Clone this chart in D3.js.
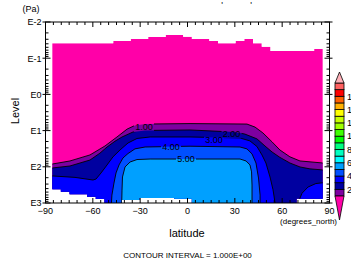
<!DOCTYPE html>
<html><head><meta charset="utf-8">
<script src="https://cdn.jsdelivr.net/npm/d3@7"></script>
<style>
body{margin:0;background:#fff}
svg{display:block}
text{font-family:"Liberation Sans",Arial,Helvetica,sans-serif;fill:#000}
</style></head>
<body><svg id="chart" width="351" height="267"></svg>
<script>
// ---------- data ----------
// T21 Gaussian latitudes (grid points), south to north
const gaussLats = [-85.761,-80.269,-74.745,-69.213,-63.679,-58.143,-52.607,-47.070,-41.532,-35.995,-30.458,-24.920,-19.382,-13.844,-8.306,-2.769,
                   2.769,8.306,13.844,19.382,24.920,30.458,35.995,41.532,47.070,52.607,58.143,63.679,69.213,74.745,80.269,85.761];
// top of valid data (Pa), one per interval between grid latitudes
const topPa = [0.0387,0.0387,0.0387,0.0387,0.0387,0.0387,0.0387,0.0335,0.0335,0.0295,0.0295,0.026,0.026,0.0229,0.0229,0.0255,
               0.0295,0.0295,0.0335,0.0387,0.0387,0.0335,0.0295,0.0387,0.048,0.063,0.063,0.063,0.063,0.063,0.056];
// bottom of valid data (Pa), one per interval
const botPa = [419,488,575,575,670,776,1000,1000,826,826,728,728,728,728,760,760,
               1000,1000,1000,1000,1000,1000,1000,1000,1000,1000,1000,1000,760,760,760];
// contour lines [latitude, level(Pa)]
const contour1 = [[-85.76,84],[-74.5,69],[-61.8,47],[-52.3,26.6],[-44.7,15],[-38.3,9.1],[-33.3,7.2],[-26.9,6.6],[1.6,6.4],[37.7,6.6],[42.8,8.0],[47.8,11.6],[53.6,20.5],[58.6,34.4],[64.9,53],[71.3,69],[85.76,78.5]];
const contour2 = [[-85.76,108],[-74.5,95],[-61.8,65],[-55.5,42],[-51.0,28.4],[-46,19.7],[-41.5,15],[-34.5,10.9],[-26.9,9.9],[1.6,9.6],[30.1,11],[36.4,12.5],[44.0,16.9],[49.1,26.6],[53.6,39],[58.6,55],[64.9,78.5],[71.3,101],[77.6,114],[85.76,122]];
const contour3 = [[-85.76,179],[-71.3,196],[-59.9,232],[-58.0,218],[-54.8,148],[-51.0,89],[-47.2,53],[-42.8,34.4],[-37.7,22],[-32.0,16.5],[-23.7,15],[1.6,15],[33.3,16],[39.6,19.3],[44.0,27.5],[47.2,47],[49.7,78.5],[52.3,191],[54.2,432],[55.5,1000]];
const contour3b = [[70.0,1000],[72.6,535],[76.4,362],[81.4,290],[85.76,276]];
const contour4 = [[-48.2,1000],[-47.9,604],[-46.6,281],[-45.3,148],[-43.4,89],[-40.9,57],[-37.7,43],[-33.3,32],[-26.9,28.4],[1.6,27],[33.3,28.4],[37.7,32],[40.9,44],[43.4,78.5],[45.0,204],[46.0,604],[46.0,1000]];
const contour5 = [[-41.7,1000],[-41.5,440],[-41.2,191],[-39.6,101],[-36.4,73.7],[-32.0,63],[-23.7,61],[7.9,61],[33.3,61],[37.1,69],[39.6,89],[40.6,138],[40.9,319],[40.9,1000]];
// contour labels
const labelText = ["1.00","2.00","3.00","4.00","5.00"];
const labelLat  = [-27.6, 27.9, 16.8, -10.5, -0.95];
const labelPa   = [8.0, 11.8, 17.6, 27, 61];
// colour levels
const levels = [1,2,3,4,5,6,7,8,9,10,11,12,13,14,15,16,17,18];
const bandColors = ["#7d00a0","#0000a0","#0000ff","#0050ff","#00a0ff","#00ffff","#00ffc0","#00ff80","#00ff00","#40ff00","#a0ff00","#c8ff00","#ffff00","#ffb000","#ff6000","#ff0000","#ff6060"];
const underColor = "#ff00a8";
const overColor = "#ffb0b8";
const cbarLabels = [2,4,6,8,10,12,14,16];
const xTicks = [-90,-60,-30,0,30,60,90];
const yTickExps = [-2,-1,0,1,2,3];

// ---------- scales ----------
const svg = d3.select("#chart");
const x = d3.scaleLinear().domain([-90,90]).range([45.5,329.5]);
const y = d3.scaleLog().domain([0.01,1000]).range([22,203]);
const line = d3.line().x(d=>x(d[0])).y(d=>y(d[1]));

// valid-data region (stepped)
const region = [];
for (let i=0;i<topPa.length;i++){ region.push([gaussLats[i],topPa[i]],[gaussLats[i+1],topPa[i]]); }
for (let i=botPa.length-1;i>=0;i--){ region.push([gaussLats[i+1],botPa[i]],[gaussLats[i],botPa[i]]); }

const defs = svg.append("defs");
defs.append("clipPath").attr("id","dataClip").append("path").attr("d",line(region)+"Z");

const g = svg.append("g").attr("clip-path","url(#dataClip)");
g.append("path").attr("d",line(region)+"Z").attr("fill",underColor);

function closeBottom(c){ const a=c[0], b=c[c.length-1]; return c.concat([[b[0],3000],[a[0],3000]]); }
const fills = [
  {c:contour1, col:bandColors[0]},
  {c:contour2, col:bandColors[1]},
  {c:contour3, col:bandColors[2]},
  {c:contour3b, col:bandColors[2]},
  {c:contour4, col:bandColors[3]},
  {c:contour5, col:bandColors[4]}
];
fills.forEach(f=>{
  g.append("path").attr("d",line(closeBottom(f.c))+"Z").attr("fill",f.col);
});

// label mask for lines
const mask = defs.append("mask").attr("id","lblMask");
mask.append("rect").attr("x",0).attr("y",0).attr("width",351).attr("height",267).attr("fill","#fff");
labelText.forEach((t,i)=>{
  mask.append("rect").attr("x",x(labelLat[i])-10).attr("y",y(labelPa[i])-5).attr("width",20).attr("height",10).attr("fill","#000");
});
const gl = g.append("g").attr("mask","url(#lblMask)");
[contour1,contour2,contour3,contour3b,contour4,contour5].forEach(c=>{
  gl.append("path").attr("d",line(c)).attr("fill","none").attr("stroke","#000").attr("stroke-width",0.9);
});
labelText.forEach((t,i)=>{
  svg.append("text").attr("x",x(labelLat[i])).attr("y",y(labelPa[i])+3.3)
    .attr("text-anchor","middle").attr("font-size",9).text(t);
});

// ---------- axes ----------
const ax = svg.append("g").attr("stroke","#000").attr("stroke-width",1).attr("fill","none");
ax.append("rect").attr("x",x(-90)).attr("y",y(0.01)).attr("width",x(90)-x(-90)).attr("height",y(1000)-y(0.01));
// x minor/major ticks
d3.range(-90,91,5).forEach(v=>{
  const major = v%30===0, len = major?5:3;
  ax.append("line").attr("x1",x(v)).attr("x2",x(v)).attr("y1",y(1000)).attr("y2",y(1000)-len);
  ax.append("line").attr("x1",x(v)).attr("x2",x(v)).attr("y1",y(0.01)).attr("y2",y(0.01)+len);
});
// y log ticks
yTickExps.forEach(e=>{
  const v = Math.pow(10,e);
  ax.append("line").attr("x1",x(-90)-3).attr("x2",x(-90)+5).attr("y1",y(v)).attr("y2",y(v));
  ax.append("line").attr("x1",x(90)-5).attr("x2",x(90)+3).attr("y1",y(v)).attr("y2",y(v));
  if (e<3) d3.range(2,10).forEach(m=>{
    const vv = m*v;
    ax.append("line").attr("x1",x(-90)).attr("x2",x(-90)+3).attr("y1",y(vv)).attr("y2",y(vv));
    ax.append("line").attr("x1",x(90)-3).attr("x2",x(90)).attr("y1",y(vv)).attr("y2",y(vv));
  });
});
const tx = svg.append("g").attr("font-size",9);
xTicks.forEach(v=>{
  tx.append("text").attr("x",x(v)).attr("y",y(1000)+11).attr("text-anchor","middle").text(v<0?"\u2212"+Math.abs(v):String(v));
});
yTickExps.forEach(e=>{
  tx.append("text").attr("x",x(-90)-4).attr("y",y(Math.pow(10,e))+3.3).attr("text-anchor","end").text("E"+e);
});
svg.append("text").attr("x",31).attr("y",12).attr("text-anchor","middle").attr("font-size",9).text("(Pa)");
svg.append("text").attr("transform","translate(19,111) rotate(-90)").attr("text-anchor","middle").attr("font-size",11).text("Level");
svg.append("text").attr("x",187).attr("y",237).attr("text-anchor","middle").attr("font-size",11).text("latitude");
svg.append("text").attr("x",337).attr("y",223.5).attr("text-anchor","end").attr("font-size",8).text("(degrees_north)");
svg.append("text").attr("x",187.5).attr("y",258).attr("text-anchor","middle").attr("font-size",8).text("CONTOUR INTERVAL = 1.000E+00");
// small marks at the top (cropped title remnants)
svg.append("text").attr("x",222).attr("y",8).attr("text-anchor","middle").attr("font-size",9).text("'");
svg.append("text").attr("x",251).attr("y",8).attr("text-anchor","middle").attr("font-size",9).text("'");

// ---------- colour bar ----------
const cy = d3.scaleLinear().domain([1,18]).range([196,83]);
const cx0 = 335, cx1 = 344;
const cb = svg.append("g").attr("stroke","#000").attr("stroke-width",0.8);
bandColors.forEach((c,i)=>{
  cb.append("rect").attr("x",cx0).attr("y",cy(levels[i+1])).attr("width",cx1-cx0).attr("height",cy(levels[i])-cy(levels[i+1])).attr("fill",c);
});
cb.append("path").attr("d",`M${cx0},${cy(18)}L${(cx0+cx1)/2},${cy(18)-11}L${cx1},${cy(18)}Z`).attr("fill",overColor);
cb.append("path").attr("d",`M${cx0},${cy(1)}L${(cx0+cx1)/2},${cy(1)+24}L${cx1},${cy(1)}Z`).attr("fill",underColor);
cbarLabels.forEach(v=>{
  svg.append("text").attr("x",347).attr("y",cy(v)+3.3).attr("font-size",9).text(String(v));
});
</script></body></html>
